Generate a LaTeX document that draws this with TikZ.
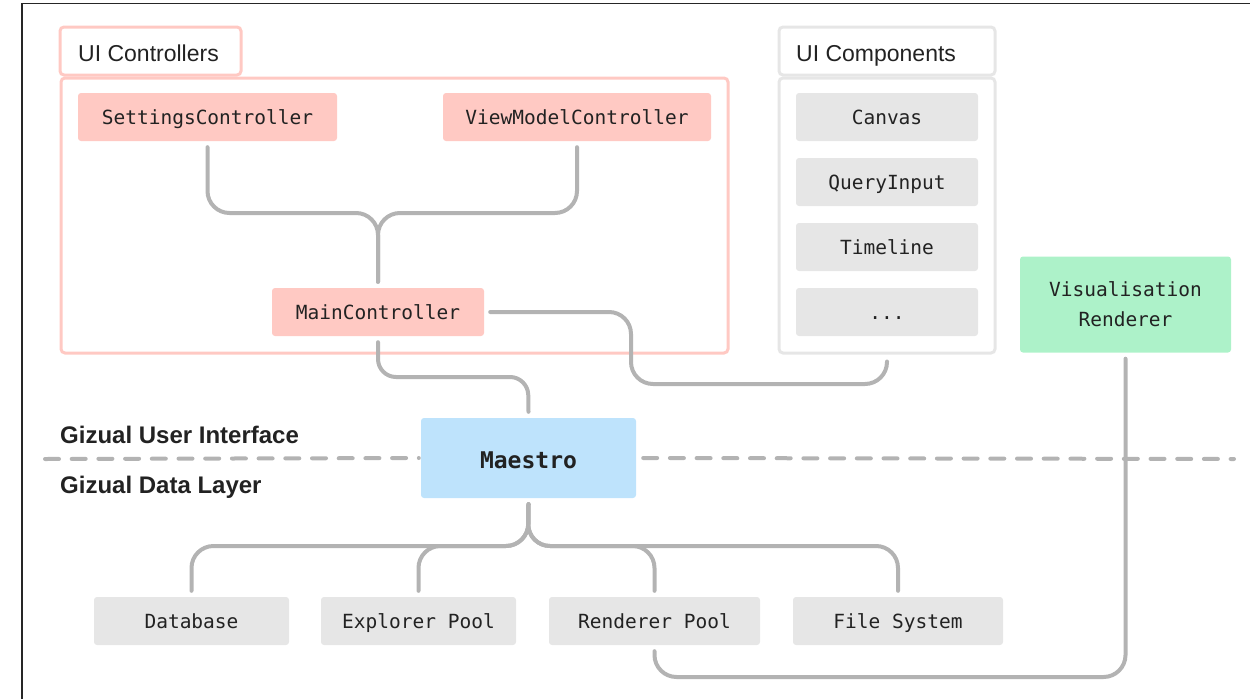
\documentclass[tikz,border=0pt]{standalone}
\usepackage{fontspec}
\setmainfont{Liberation Sans}
\setmonofont{DejaVu Sans Mono}
\definecolor{pinkc}{HTML}{FFC9C3}
\definecolor{grayc}{HTML}{E6E6E6}
\definecolor{greenc}{HTML}{ADF2C9}
\definecolor{bluec}{HTML}{BEE3FC}
\definecolor{linec}{HTML}{B3B3B3}
\definecolor{txt}{HTML}{222222}
\begin{document}
\begin{tikzpicture}[x=1pt,y=-1pt,
  box/.style={rectangle, rounded corners=3pt, inner sep=0pt, text=txt,
    font=\ttfamily\fontsize{19.5}{30}\selectfont},
  onebox/.style={box, text height=18pt, text depth=4pt, minimum height=48pt},
  pinkbox/.style={onebox, fill=pinkc},
  graybox/.style={onebox, fill=grayc},
  grp/.style={rectangle, rounded corners=4pt, line width=3pt, inner sep=0pt},
  grplabel/.style={anchor=base west, inner sep=0pt, text=txt, font=\fontsize{23}{27}\selectfont},
  layerlabel/.style={anchor=base west, inner sep=0pt, text=txt, font=\bfseries\fontsize{24}{28}\selectfont},
  conn/.style={draw=linec, line width=4pt, line cap=round, rounded corners=22pt},
  sepline/.style={draw=linec, line width=4pt, line cap=round, dash pattern=on 14pt off 12.7pt}
]
\useasboundingbox (0,0) rectangle (1250,699);
% frame
\draw[line width=1.3pt, black!85] (22,699) -- (22,3.5) -- (1250,3.5);

% UI Controllers group
\node[grp, draw=pinkc, minimum width=181pt, minimum height=48pt] (uictab) at (150.5,51) {};
\node[grp, draw=pinkc, minimum width=667pt, minimum height=275pt] (uicbox) at (394.5,215.5) {};
\node[grplabel] (uiclbl) at (78,61) {UI Controllers};

% UI Components group
\node[grp, draw=grayc, minimum width=216pt, minimum height=48pt] (uiptab) at (887,51) {};
\node[grp, draw=grayc, minimum width=216pt, minimum height=275pt] (uipbox) at (887,215.5) {};
\node[grplabel] (uiplbl) at (796,61) {UI Components};

% controller nodes
\node[pinkbox, minimum width=259pt] (sc) at (207.5,117) {SettingsController};
\node[pinkbox, minimum width=268pt] (vmc) at (577,117) {ViewModelController};
\node[pinkbox, minimum width=212pt] (mc) at (378,312) {MainController};

% component nodes
\node[graybox, minimum width=182pt] (canvas) at (887,117) {Canvas};
\node[graybox, minimum width=182pt] (query) at (887,182) {QueryInput};
\node[graybox, minimum width=182pt] (timeline) at (887,247) {Timeline};
\node[graybox, minimum width=182pt] (more) at (887,312) {...};

% visualisation renderer
\node[box, fill=greenc, minimum width=211pt, minimum height=96pt, align=center] (vis) at (1125.5,304.5) {Visualisation\\Renderer};

% maestro
\node[box, fill=bluec, minimum width=215pt, minimum height=80pt, text height=25pt, text depth=4pt, font=\ttfamily\bfseries\fontsize{23}{28}\selectfont] (mae) at (528.5,458) {Maestro};

% layer labels and separator
\node[layerlabel] (uilayer) at (60,443) {Gizual User Interface};
\node[layerlabel] (datalayer) at (60,493) {Gizual Data Layer};
\draw[sepline] (45,459) -- ([xshift=-2pt]mae.west);
\draw[sepline] ([xshift=7pt]mae.east) -- (1234,459);

% data nodes
\node[graybox, minimum width=195pt] (db) at (191.5,621) {Database};
\node[graybox, minimum width=195pt] (ep) at (418.5,621) {Explorer Pool};
\node[graybox, minimum width=211pt] (rp) at (654.5,621) {Renderer Pool};
\node[graybox, minimum width=210pt] (fs) at (898,621) {File System};

% connectors
\draw[conn] ([yshift=-6pt]sc.south) |- (378,213) -- ([yshift=6pt]mc.north);
\draw[conn] ([yshift=-6pt]vmc.south) |- (378,213) -- ([yshift=6pt]mc.north);
\draw[conn, rounded corners=18pt] ([yshift=-6pt]mc.south) |- (528,377) -- ([yshift=6pt]mae.north);
\draw[conn] ([xshift=6pt]mc.east) -| (631,384) -| ([yshift=-7pt]uipbox.south);

\draw[conn] ([yshift=-6pt]mae.south) -- (528,546) -| ([yshift=6pt]db.north);
\draw[conn] ([yshift=-6pt]mae.south) -- (528,546) -| ([yshift=6pt]ep.north);
\draw[conn] ([yshift=-6pt]mae.south) -- (528,546) -| ([yshift=6pt]rp.north);
\draw[conn] ([yshift=-6pt]mae.south) -- (528,546) -| ([yshift=6pt]fs.north);

\draw[conn] ([yshift=-6pt]rp.south) |- (800,677) -| ([yshift=-6pt]vis.south);
\end{tikzpicture}
\end{document}
